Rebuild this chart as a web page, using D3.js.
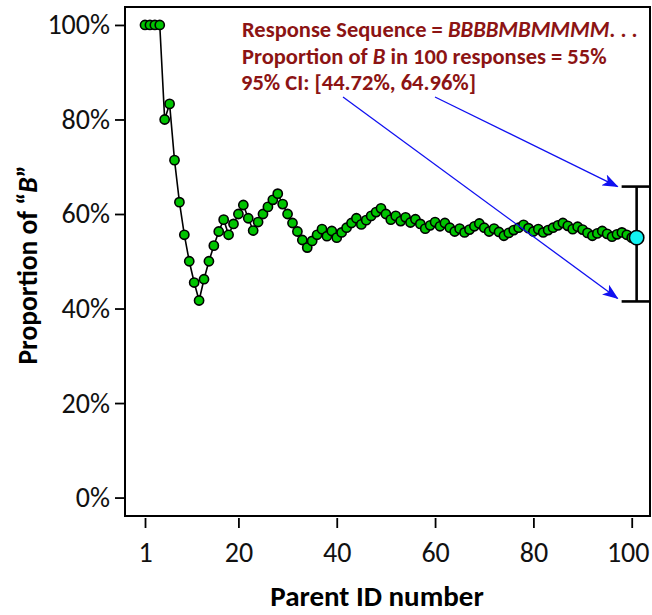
<!DOCTYPE html>
<html>
<head>
<meta charset="utf-8">
<script src="https://cdn.jsdelivr.net/npm/d3@7"></script>
<style>
  body { margin: 0; background: #fff; }
  svg { display: block; font-family: Carlito, Calibri, Lato, sans-serif; }
</style>
</head>
<body>
<div id="chart"></div>
<script>
/* data */
var parentIds = d3.range(1, 101);
var propB = [100, 100, 100, 100, 80.0, 83.3, 71.4, 62.5, 55.6, 50.0,
  45.5, 41.7, 46.2, 50.0, 53.3, 56.3, 58.8, 55.6, 57.9, 60.0,
  61.9, 59.1, 56.5, 58.3, 60.0, 61.5, 63.0, 64.3, 62.1, 60.0,
  58.1, 56.3, 54.5, 52.9, 54.3, 55.6, 56.8, 55.3, 56.4, 55.0,
  56.1, 57.1, 58.1, 59.1, 57.8, 58.7, 59.6, 60.4, 61.2, 60.0,
  58.8, 59.6, 58.5, 59.3, 58.2, 58.9, 57.9, 56.9, 57.6, 58.3,
  57.4, 58.1, 57.1, 56.3, 56.9, 56.1, 56.7, 57.4, 58.0, 57.1,
  56.3, 56.9, 56.2, 55.4, 56.0, 56.6, 57.1, 57.7, 57.0, 56.3,
  56.8, 56.1, 56.6, 57.1, 57.6, 58.1, 57.5, 56.8, 57.3, 56.7,
  56.0, 55.4, 55.9, 56.4, 55.8, 55.2, 55.7, 56.1, 55.6, 55.0];
var xTicks = [1, 20, 40, 60, 80, 100];
var yTicks = [0, 20, 40, 60, 80, 100];
// summary point with its bar, as drawn at the right edge
var summaryX = [101];
var summaryP = [55];
var barLow = [41.5];
var barHigh = [65.8];
var noteLines = ["Response Sequence = ", "Proportion of ", "95% CI: [44.72%, 64.96%]"];

var W = 652, H = 615;
var frame = { left: 125, top: 7, right: 650, bottom: 516 };

var svg = d3.select("#chart").append("svg")
  .attr("width", W).attr("height", H);

var x = d3.scaleLinear().domain([-3.07, 103.72]).range([frame.left, frame.right]);
var y = d3.scaleLinear().domain([-3.9, 103.8]).range([frame.bottom, frame.top]);

// frame
svg.append("rect")
  .attr("x", frame.left).attr("y", frame.top)
  .attr("width", frame.right - frame.left).attr("height", frame.bottom - frame.top)
  .attr("fill", "none").attr("stroke", "#000").attr("stroke-width", 2);

// axes
var xAxis = svg.append("g")
  .attr("transform", "translate(0," + (frame.bottom + 2) + ")")
  .call(d3.axisBottom(x).tickValues(xTicks).tickSize(10).tickPadding(14));
var yAxis = svg.append("g")
  .attr("transform", "translate(" + frame.left + ",0)")
  .call(d3.axisLeft(y).tickValues(yTicks).tickSize(10).tickPadding(5)
    .tickFormat(function(d){ return d + "%"; }));
[xAxis, yAxis].forEach(function(g){
  g.select(".domain").remove();
  g.selectAll("line").attr("stroke", "#000").attr("stroke-width", 1.8);
  g.selectAll("text").attr("fill", "#111").style("font-size", "28px")
    .style("font-family", "Carlito, Calibri, Lato, sans-serif");
});
// keep the last label inside the window
xAxis.selectAll(".tick text").filter(function(d){ return d === 100; })
  .attr("dx", -4);

// titles
svg.append("text")
  .attr("x", 377).attr("y", 606)
  .attr("text-anchor", "middle")
  .style("font-size", "29px").style("font-weight", "bold")
  .text("Parent ID number");

var yt = svg.append("text")
  .attr("transform", "translate(37,265) rotate(-90)")
  .attr("text-anchor", "middle")
  .style("font-size", "27.5px").style("font-weight", "bold");
yt.append("tspan").text("Proportion of \u201C");
yt.append("tspan").style("font-style", "italic").text("B");
yt.append("tspan").text("\u201D");

// line + points
var pts = parentIds.map(function(d, i){ return { n: d, p: propB[i] }; });
svg.append("path")
  .datum(pts)
  .attr("fill", "none").attr("stroke", "#000").attr("stroke-width", 1.6)
  .attr("d", d3.line().x(function(d){ return x(d.n); }).y(function(d){ return y(d.p); }));

svg.selectAll("circle.pt").data(pts).enter()
  .append("circle").attr("class", "pt")
  .attr("cx", function(d){ return x(d.n); })
  .attr("cy", function(d){ return y(d.p); })
  .attr("r", 4.6)
  .attr("fill", "#00c400").attr("stroke", "#000").attr("stroke-width", 1.6);

// interval bar
var bx = x(summaryX[0]);
svg.append("line")
  .attr("x1", bx).attr("x2", bx).attr("y1", y(barHigh[0])).attr("y2", y(barLow[0]))
  .attr("stroke", "#000").attr("stroke-width", 2.6);
[barHigh[0], barLow[0]].forEach(function(v){
  svg.append("line")
    .attr("x1", bx - 15).attr("x2", bx + 14).attr("y1", y(v)).attr("y2", y(v))
    .attr("stroke", "#000").attr("stroke-width", 2.6);
});
svg.append("circle")
  .attr("cx", bx).attr("cy", y(summaryP[0])).attr("r", 7.2)
  .attr("fill", "#12f2f2").attr("stroke", "#000").attr("stroke-width", 1.6);

// annotation
var red = "#8c1414";
var note = svg.append("g").style("font-size", "22.5px").style("font-weight", "bold").attr("fill", red);
var t1 = note.append("text").attr("x", 242).attr("y", 37);
t1.append("tspan").text(noteLines[0]);
t1.append("tspan").style("font-style", "italic").text("BBBBMBMMMM");
t1.append("tspan").text(". . .");
var t2 = note.append("text").attr("x", 242).attr("y", 63.5);
t2.append("tspan").text(noteLines[1]);
t2.append("tspan").style("font-style", "italic").text("B");
t2.append("tspan").text(" in 100 responses = 55%");
note.append("text").attr("x", 241).attr("y", 90).text(noteLines[2]);

// arrows
svg.append("defs").append("marker")
  .attr("id", "ah").attr("viewBox", "0 0 16 12")
  .attr("refX", 15).attr("refY", 6)
  .attr("markerWidth", 16).attr("markerHeight", 12)
  .attr("markerUnits", "userSpaceOnUse")
  .attr("orient", "auto")
  .append("path").attr("d", "M0,0 L16,6 L0,12 L4,6 Z").attr("fill", "#1010f0");

[[435, 97, bx - 19, y(barHigh[0])], [343, 97, bx - 19, y(barLow[0]) - 3]].forEach(function(a){
  svg.append("line")
    .attr("x1", a[0]).attr("y1", a[1]).attr("x2", a[2]).attr("y2", a[3])
    .attr("stroke", "#1010f0").attr("stroke-width", 1.3)
    .attr("marker-end", "url(#ah)");
});
</script>
</body>
</html>
